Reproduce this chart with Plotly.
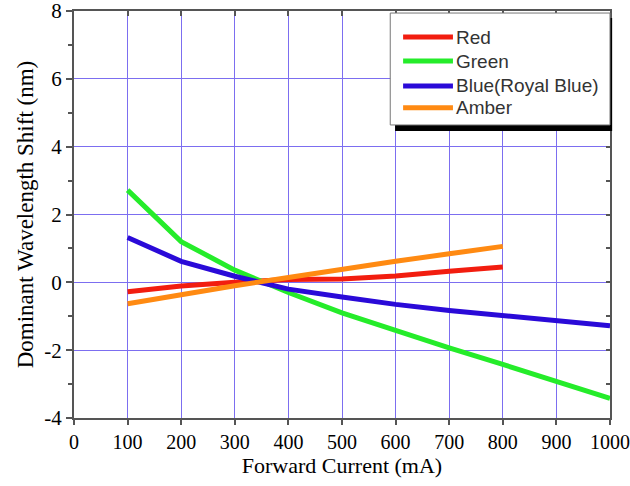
import plotly.graph_objects as go

# Forward current (mA) and dominant wavelength shift (nm) for each LED colour
current_short = [100, 200, 300, 400, 500, 600, 700, 800]
current_long = [100, 200, 300, 400, 500, 600, 700, 800, 900, 1000]

red_shift = [-0.28, -0.11, 0.0, 0.08, 0.10, 0.19, 0.33, 0.45]
green_shift = [2.72, 1.20, 0.36, -0.30, -0.90, -1.42, -1.93, -2.42, -2.92, -3.42]
blue_shift = [1.32, 0.62, 0.18, -0.20, -0.43, -0.65, -0.83, -0.98, -1.13, -1.28]
amber_shift = [-0.63, -0.36, -0.10, 0.14, 0.39, 0.62, 0.84, 1.06]

x_ticks = [0, 100, 200, 300, 400, 500, 600, 700, 800, 900, 1000]
y_ticks = [-4, -2, 0, 2, 4, 6, 8]
y_minor = [-4, -3, -2, -1, 0, 1, 2, 3, 4, 5, 6, 7, 8]

series_names = ["Red", "Green", "Blue(Royal Blue)", "Amber"]
series_colors = ["#f21d0f", "#25ec2a", "#2a0ad8", "#ff8a12"]
series_x = [current_short, current_long, current_long, current_short]
series_y = [red_shift, green_shift, blue_shift, amber_shift]

fig = go.Figure()
for name, xs, ys, color in zip(series_names, series_x, series_y, series_colors):
    fig.add_trace(go.Scatter(x=xs, y=ys, mode="lines", name=name,
                             line=dict(color=color, width=5), showlegend=False))

grid_color = "#7c6ef0"
axis_color = "#555555"
serif = "Liberation Serif, Times New Roman, serif"
sans = "Liberation Sans, Arial, sans-serif"

fig.update_layout(
    width=630, height=486,
    margin=dict(l=74, r=20, t=11, b=68),
    paper_bgcolor="white", plot_bgcolor="white",
    font=dict(family=serif, size=20, color="black"),
    showlegend=False,
    xaxis=dict(
        range=[0, 1000], tickvals=x_ticks, ticktext=[str(v) for v in x_ticks],
        showgrid=True, gridcolor=grid_color, gridwidth=1.2,
        showline=True, linecolor=axis_color, linewidth=2,
        ticks="outside", ticklen=5, tickcolor=axis_color, tickwidth=1.5,
        zeroline=False, automargin=False, ticklabeloverflow="allow",
        title=dict(text="Forward Current (mA)", font=dict(size=22), standoff=6),
        tickfont=dict(size=20),
    ),
    yaxis=dict(
        range=[-4, 8], tickvals=y_ticks, ticktext=[str(v) for v in y_ticks],
        showgrid=True, gridcolor=grid_color, gridwidth=1.2,
        showline=True, linecolor=axis_color, linewidth=2,
        ticks="outside", ticklen=6, tickcolor=axis_color, tickwidth=1.5,
        minor=dict(tickvals=y_minor, ticks="outside", ticklen=4,
                   tickcolor=axis_color, showgrid=False),
        zeroline=False, automargin=False, ticklabeloverflow="allow",
        title=dict(text="Dominant Wavelength Shift (nm)", font=dict(size=23), standoff=4),
        tickfont=dict(size=21),
    ),
    # frame on the top and right with inward ticks
    xaxis2=dict(
        range=[0, 1000], overlaying="x", side="top", anchor="y",
        tickvals=x_ticks, showticklabels=False, showgrid=False, zeroline=False,
        showline=True, linecolor=axis_color, linewidth=2,
        ticks="inside", ticklen=5, tickcolor=axis_color, tickwidth=1.5,
    ),
    yaxis2=dict(
        range=[-4, 8], overlaying="y", side="right", anchor="x",
        tickvals=y_minor, showticklabels=False, showgrid=False, zeroline=False,
        showline=True, linecolor=axis_color, linewidth=2,
        ticks="inside", ticklen=4, tickcolor=axis_color, tickwidth=1.5,
    ),
)

# Invisible carrier trace so the top/right frame axes are drawn
fig.add_trace(go.Scatter(x=[None], y=[None], xaxis="x2", yaxis="y2",
                         showlegend=False, hoverinfo="skip"))

# Legend box with a drop shadow, drawn in paper coordinates
box_x0, box_x1 = 0.590, 1.0
box_y0, box_y1 = 0.72, 0.995
fig.add_shape(type="rect", xref="paper", yref="paper",
              x0=box_x0 + 0.009, x1=box_x1 + 0.004, y0=box_y0 - 0.015, y1=box_y1 - 0.012,
              fillcolor="black", line=dict(width=0), layer="above")
fig.add_shape(type="rect", xref="paper", yref="paper",
              x0=box_x0, x1=box_x1, y0=box_y0, y1=box_y1,
              fillcolor="white", line=dict(color="#777777", width=1), layer="above")

row_y = [0.936, 0.877, 0.816, 0.762]
for name, color, ry in zip(series_names, series_colors, row_y):
    fig.add_shape(type="line", xref="paper", yref="paper",
                  x0=0.614, x1=0.707, y0=ry, y1=ry,
                  line=dict(color=color, width=5), layer="above")
    fig.add_annotation(xref="paper", yref="paper", x=0.709, y=ry,
                       xanchor="left", yanchor="middle", showarrow=False,
                       text=name, font=dict(family=sans, size=19, color="#333333"))

fig.write_html("out.html")
